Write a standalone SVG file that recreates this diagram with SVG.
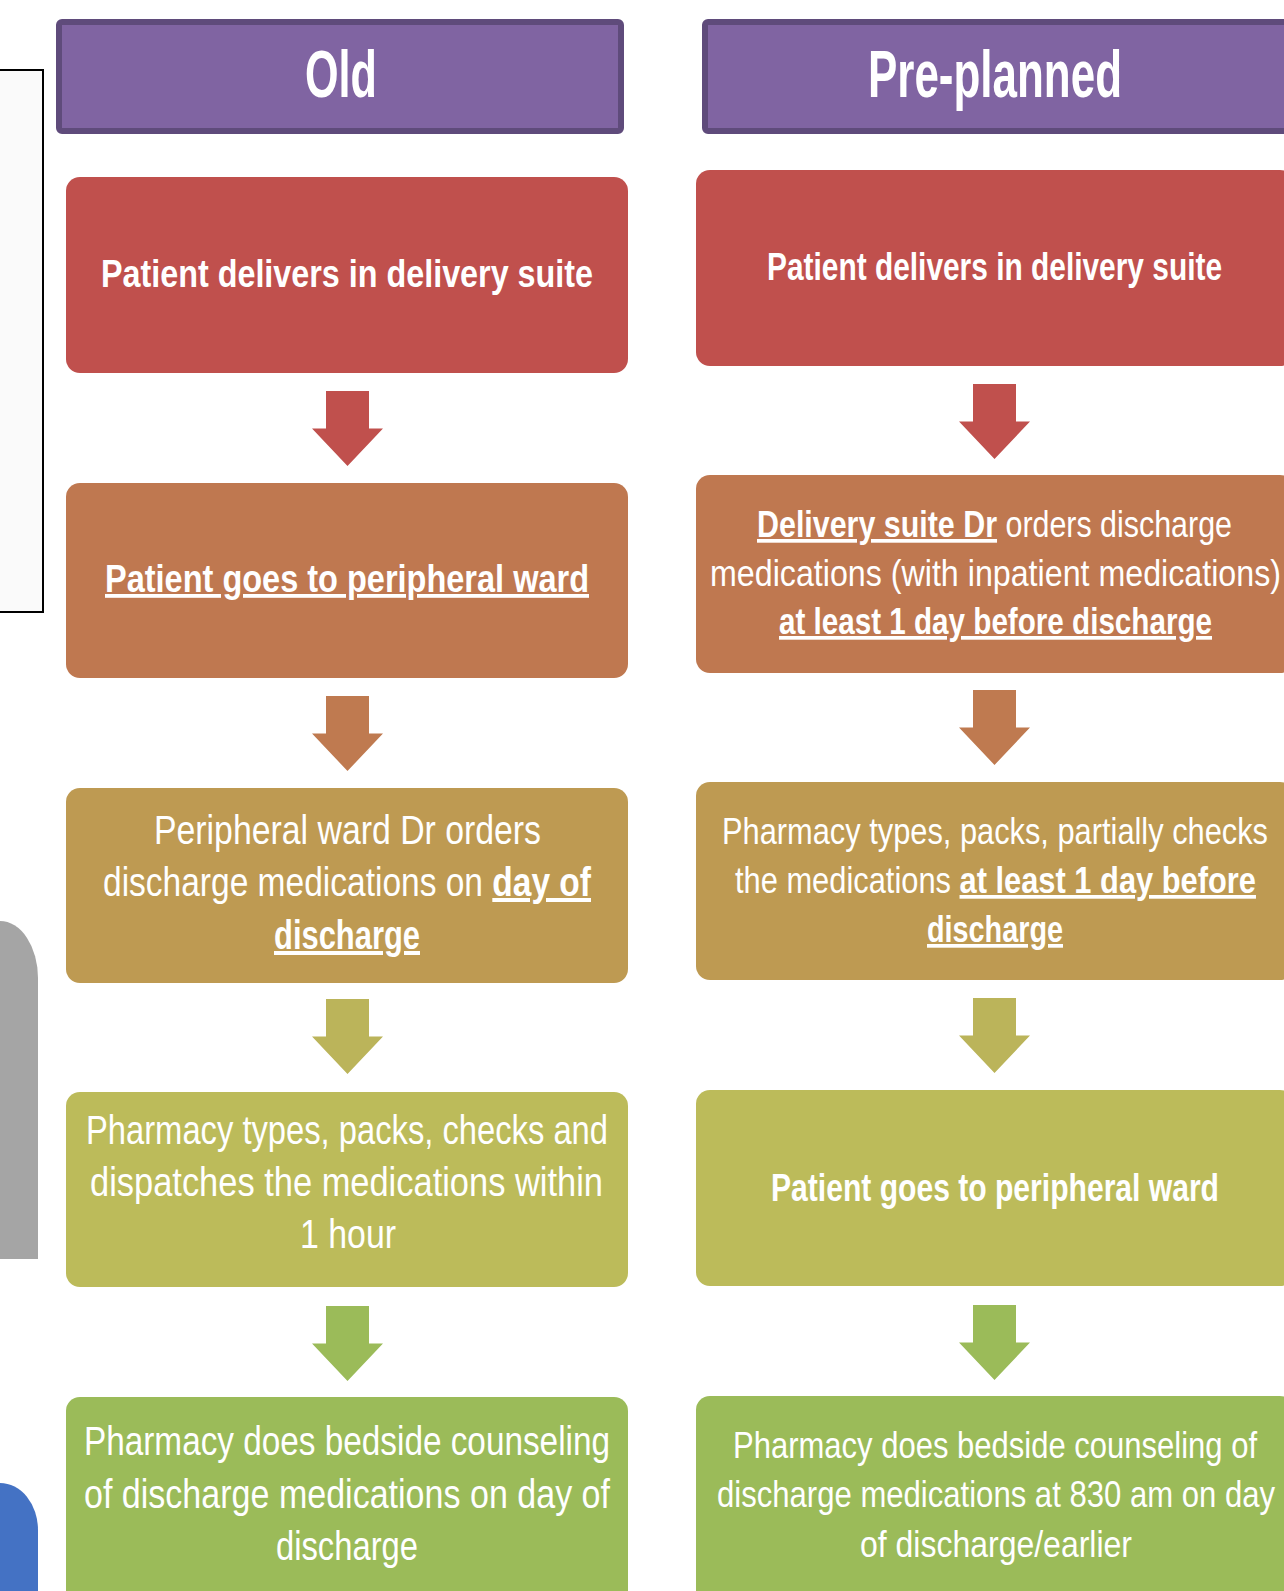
<svg xmlns="http://www.w3.org/2000/svg" xmlns:xlink="http://www.w3.org/1999/xlink" width="1284" height="1591" viewBox="0 0 1284 1591">
<style>
text{font-family:"Liberation Sans",Arial,sans-serif;fill:#ffffff}
.hd{font-size:66px;font-weight:bold}
.b{font-size:38px;font-weight:bold}
.l{font-size:40px}
.r{font-size:37px}
.u{font-weight:bold;text-decoration:underline}
.hdr{fill:#8064a2;stroke:#5f4b7b;stroke-width:6}
</style>
<defs>
<path id="arrow" d="M-21.5,0 H21.5 V37.5 H35.5 L0,75 L-35.5,37.5 H-21.5 Z"/>
</defs>
<rect x="0" y="0" width="1284" height="1591" fill="#ffffff"/>
<g id="side-panels">
<rect x="-4" y="70" width="47" height="542" fill="#fafafa" stroke="#000000" stroke-width="2"/>
<path d="M0,921 A38,57 0 0 1 38,978 L38,1259 L0,1259 Z" fill="#a5a5a5"/>
<path d="M0,1483 A38,47 0 0 1 38,1530 L38,1591 L0,1591 Z" fill="#4472c4"/>
</g>
<g id="header-old">
<rect class="hdr" x="59" y="22" width="562" height="109" rx="3"/>
<text class="hd" x="305" y="97" textLength="72" lengthAdjust="spacingAndGlyphs">Old</text>
</g>
<g id="header-preplanned">
<rect class="hdr" x="705" y="22" width="600" height="109" rx="3"/>
<text class="hd" x="868" y="97" textLength="254" lengthAdjust="spacingAndGlyphs">Pre-planned</text>
</g>
<g id="connectors">
<use xlink:href="#arrow" x="347.5" y="391" fill="#c0504d"/>
<use xlink:href="#arrow" x="347.5" y="696" fill="#bf7a50"/>
<use xlink:href="#arrow" x="347.5" y="999" fill="#bbb45a"/>
<use xlink:href="#arrow" x="347.5" y="1306" fill="#9bbb59"/>
<use xlink:href="#arrow" x="994.5" y="384" fill="#c0504d"/>
<use xlink:href="#arrow" x="994.5" y="690" fill="#bf7a50"/>
<use xlink:href="#arrow" x="994.5" y="998" fill="#bbb45a"/>
<use xlink:href="#arrow" x="994.5" y="1305" fill="#9bbb59"/>
</g>
<g id="old-1">
<rect x="66" y="177" width="562" height="196" rx="14" fill="#c0504d"/>
<text class="b" x="101" y="287" textLength="492" lengthAdjust="spacingAndGlyphs">Patient delivers in delivery suite</text>
</g>
<g id="old-2">
<rect x="66" y="483" width="562" height="195" rx="14" fill="#bf7850"/>
<text class="b" x="105" y="592" textLength="484" lengthAdjust="spacingAndGlyphs" text-decoration="underline">Patient goes to peripheral ward</text>
</g>
<g id="old-3">
<rect x="66" y="788" width="562" height="195" rx="14" fill="#be9a52"/>
<text class="l" x="154" y="844" textLength="387" lengthAdjust="spacingAndGlyphs">Peripheral ward Dr orders</text>
<text class="l" x="103" y="896" textLength="488" lengthAdjust="spacingAndGlyphs">discharge medications on <tspan class="u">day of</tspan></text>
<text class="l" x="274" y="949" textLength="146" lengthAdjust="spacingAndGlyphs"><tspan class="u">discharge</tspan></text>
</g>
<g id="old-4">
<rect x="66" y="1092" width="562" height="195" rx="14" fill="#bcbb5a"/>
<text class="l" x="86" y="1144" textLength="522" lengthAdjust="spacingAndGlyphs">Pharmacy types, packs, checks and</text>
<text class="l" x="90" y="1196" textLength="513" lengthAdjust="spacingAndGlyphs">dispatches the medications within</text>
<text class="l" x="300" y="1248" textLength="96" lengthAdjust="spacingAndGlyphs">1 hour</text>
</g>
<g id="old-5">
<rect x="66" y="1397" width="562" height="210" rx="14" fill="#9bbb59"/>
<text class="l" x="84" y="1455" textLength="526" lengthAdjust="spacingAndGlyphs">Pharmacy does bedside counseling</text>
<text class="l" x="84" y="1508" textLength="526" lengthAdjust="spacingAndGlyphs">of discharge medications on day of</text>
<text class="l" x="276" y="1560" textLength="142" lengthAdjust="spacingAndGlyphs">discharge</text>
</g>
<g id="pre-1">
<rect x="696" y="170" width="598" height="196" rx="14" fill="#c0504d"/>
<text class="b" x="767" y="280" textLength="455" lengthAdjust="spacingAndGlyphs">Patient delivers in delivery suite</text>
</g>
<g id="pre-2">
<rect x="696" y="475" width="598" height="198" rx="14" fill="#bf7850"/>
<text class="r" x="757" y="537" textLength="475" lengthAdjust="spacingAndGlyphs"><tspan class="u">Delivery suite Dr</tspan> orders discharge</text>
<text class="r" x="710" y="586" textLength="571" lengthAdjust="spacingAndGlyphs">medications (with inpatient medications)</text>
<text class="r" x="779" y="634" textLength="433" lengthAdjust="spacingAndGlyphs"><tspan class="u">at least 1 day before discharge</tspan></text>
</g>
<g id="pre-3">
<rect x="696" y="782" width="598" height="198" rx="14" fill="#be9a52"/>
<text class="r" x="722" y="844" textLength="546" lengthAdjust="spacingAndGlyphs">Pharmacy types, packs, partially checks</text>
<text class="r" x="735" y="893" textLength="521" lengthAdjust="spacingAndGlyphs">the medications <tspan class="u">at least 1 day before</tspan></text>
<text class="r" x="927" y="942" textLength="136" lengthAdjust="spacingAndGlyphs"><tspan class="u">discharge</tspan></text>
</g>
<g id="pre-4">
<rect x="696" y="1090" width="598" height="196" rx="14" fill="#bcbb5a"/>
<text class="b" x="771" y="1201" textLength="448" lengthAdjust="spacingAndGlyphs">Patient goes to peripheral ward</text>
</g>
<g id="pre-5">
<rect x="696" y="1396" width="598" height="210" rx="14" fill="#9bbb59"/>
<text class="r" x="733" y="1458" textLength="524" lengthAdjust="spacingAndGlyphs">Pharmacy does bedside counseling of</text>
<text class="r" x="717" y="1507" textLength="558" lengthAdjust="spacingAndGlyphs">discharge medications at 830 am on day</text>
<text class="r" x="860" y="1557" textLength="272" lengthAdjust="spacingAndGlyphs">of discharge/earlier</text>
</g>
</svg>
